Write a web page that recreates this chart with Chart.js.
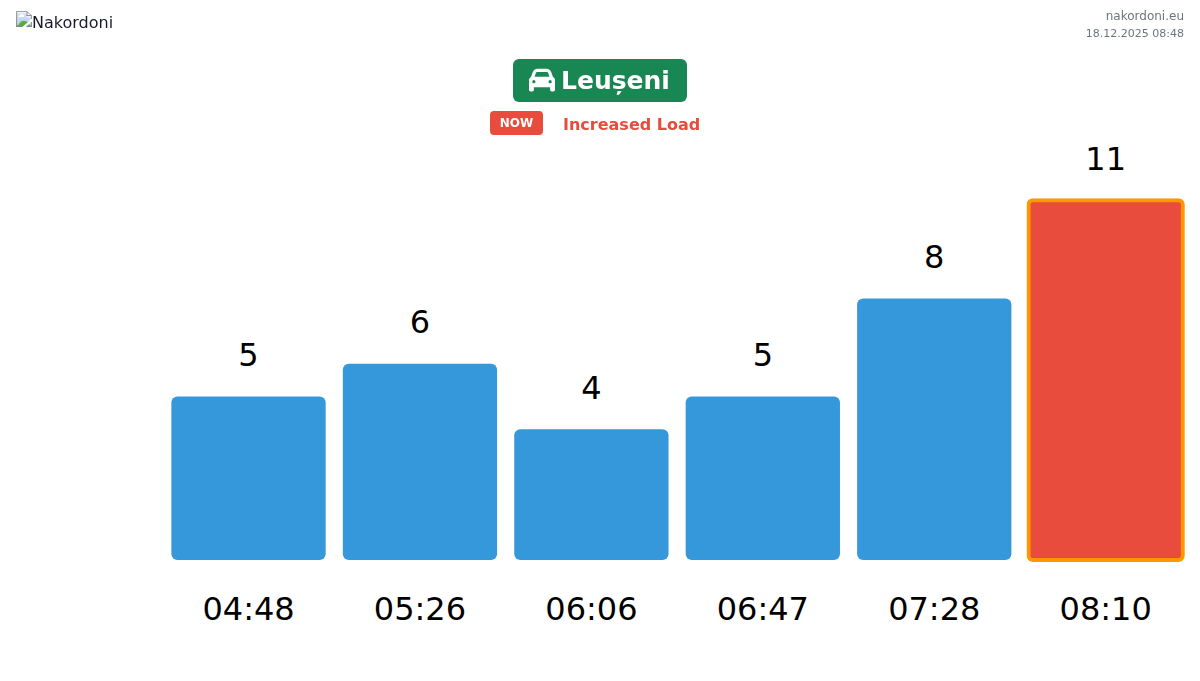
<!DOCTYPE html>
<html><head><meta charset="utf-8">
<script src="https://cdn.jsdelivr.net/npm/chart.js@4"></script>
<style>
html,body{margin:0;padding:0;background:#fff;width:1200px;height:681px;overflow:hidden;font-family:"DejaVu Sans",sans-serif}
#c{position:absolute;left:0;top:0}
#logo{position:absolute;left:16px;top:11px;font-size:16px;color:#1a1a2e;height:24px;line-height:24px}
#meta{position:absolute;right:16px;top:8px;text-align:right;font-size:12px;line-height:17px;color:#6c757d}
#meta small{font-size:11px}
#title{position:absolute;left:513px;top:59px;width:174px;height:43px;background:#198754;border-radius:6px;color:#fff;font-weight:bold;font-size:25px;line-height:43px;white-space:nowrap}
#title svg{position:absolute;left:16px;top:8px;width:26px;height:26px;fill:#fff}
#title span{position:absolute;left:48px;top:0}
#now{position:absolute;left:490px;top:111px;width:53px;height:24px;background:#e74c3c;border-radius:4px;color:#fff;font-weight:bold;font-size:12px;line-height:24px;text-align:center}
#load{position:absolute;left:563px;top:114px;font-weight:bold;font-size:16px;line-height:22px;color:#e74c3c;white-space:nowrap}
</style></head>
<body>
<canvas id="c" width="1200" height="681"></canvas>
<img id="logo" src="missing-logo.png" alt="Nakordoni">
<div id="meta">nakordoni.eu<br><small>18.12.2025 08:48</small></div>
<div id="title"><svg viewBox="0 0 512 512"><path d="M135.2 117.4L109.1 192H402.9l-26.1-74.6C372.3 104.6 360.2 96 346.6 96H165.4c-13.6 0-25.7 8.6-30.2 21.4zM39.6 196.8L74.8 96.3C88.3 57.8 124.6 32 165.4 32H346.6c40.8 0 77.1 25.8 90.6 64.3l35.2 100.5c23.2 9.6 39.6 32.5 39.6 59.2V400v48c0 17.7-14.3 32-32 32H448c-17.7 0-32-14.3-32-32V400H96v48c0 17.7-14.3 32-32 32H32c-17.7 0-32-14.3-32-32V400 256c0-26.7 16.4-49.6 39.6-59.2zM128 288a32 32 0 1 0 -64 0 32 32 0 1 0 64 0zm288 32a32 32 0 1 0 0-64 32 32 0 1 0 0 64z"/></svg><span>Leușeni</span></div>
<div id="now">NOW</div>
<div id="load">Increased Load</div>
<script>
const times = ["04:48","05:26","06:06","06:47","07:28","08:10"];
const counts = [5,6,4,5,8,11];
const barColors = ["#3498db","#3498db","#3498db","#3498db","#3498db","#e74c3c"];
const edgeColors = ["#3498db","#3498db","#3498db","#3498db","#3498db","#ff9800"];
const edgeWidths = [0,0,0,0,0,4];
const inflate = [0,0,0,0,0,2];

const cv = document.getElementById("c");
cv.getContext("2d",{alpha:false});

const paper = {
  id:"paper",
  beforeDraw(chart){
    const c = chart.ctx;
    c.save();
    c.fillStyle = "#fff";
    c.fillRect(0,0,chart.width,chart.height);
    c.restore();
  }
};

const valueLabels = {
  id:"valueLabels",
  afterDatasetsDraw(chart){
    const ctx = chart.ctx, meta = chart.getDatasetMeta(0), y = chart.scales.y;
    ctx.save();
    ctx.font = '32px "DejaVu Sans"';
    ctx.fillStyle = "#000";
    ctx.textAlign = "center";
    ctx.textBaseline = "middle";
    counts.forEach((v,i)=>ctx.fillText(String(v), meta.data[i].x, y.getPixelForValue(v)-39));
    ctx.restore();
  }
};

new Chart(cv,{
  type:"bar",
  data:{labels:times,datasets:[{
    data:counts,
    backgroundColor:barColors,
    borderColor:edgeColors,
    borderWidth:edgeWidths,
    borderRadius:6,
    borderSkipped:false,
    inflateAmount:inflate,
    barPercentage:0.9,
    categoryPercentage:1,
    clip:false
  }]},
  options:{
    responsive:false,animation:false,
    layout:{padding:{left:162.8,right:8.6,top:167.6,bottom:18.6}},
    plugins:{legend:{display:false},tooltip:{enabled:false},title:{display:false}},
    scales:{
      x:{grid:{display:false,drawTicks:false},border:{display:false},
         ticks:{color:"#000",padding:32,maxRotation:0,autoSkip:false,font:{family:'"DejaVu Sans"',size:32}}},
      y:{display:false,min:0,max:12}
    }
  },
  plugins:[paper,valueLabels]
});
</script>
</body></html>
